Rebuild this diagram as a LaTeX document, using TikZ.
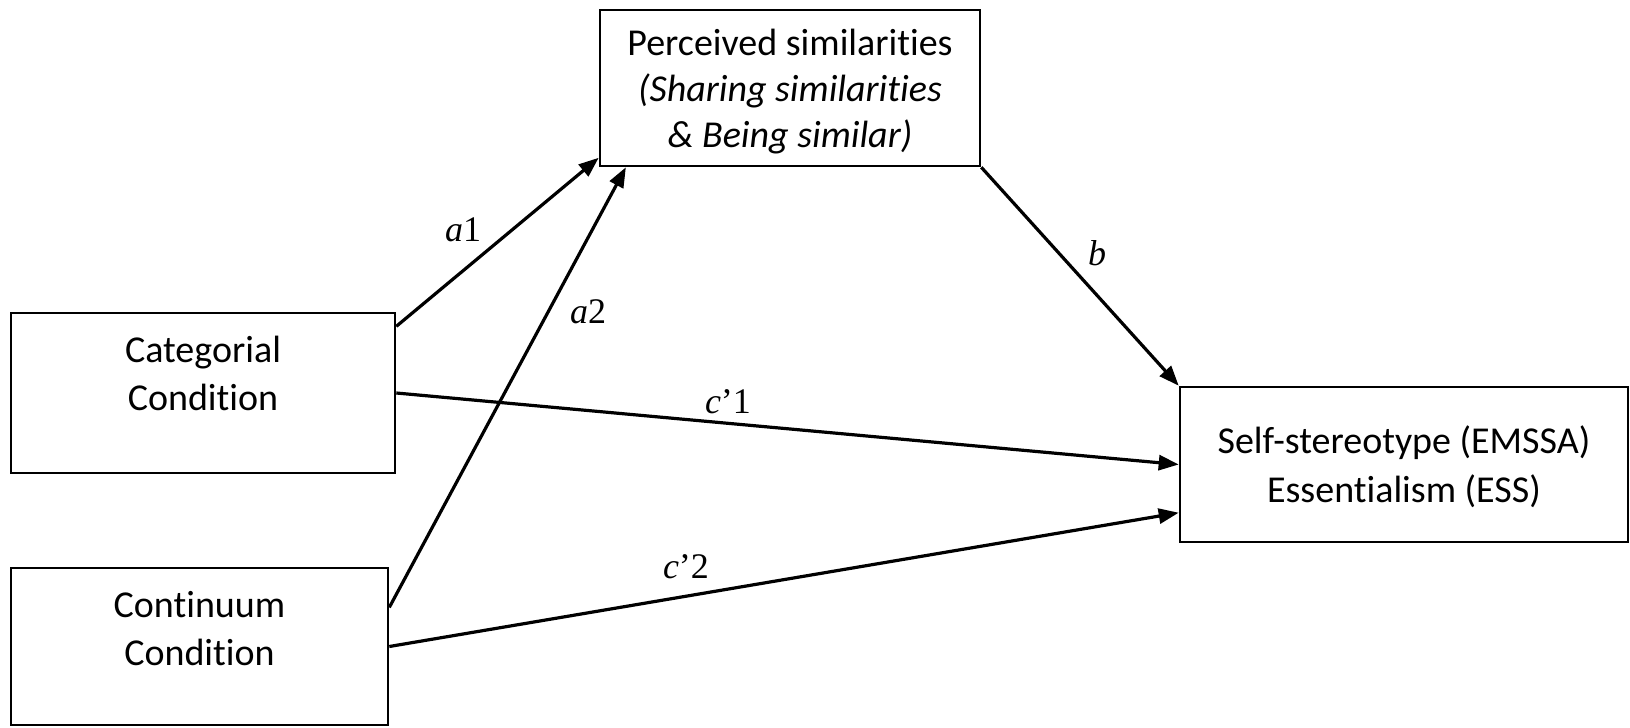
\documentclass[tikz,border=0pt]{standalone}
\usepackage{fontspec}
\setmainfont{Carlito}[Ligatures=NoCommon]
\newfontfamily\pathfont{Liberation Serif}
\usetikzlibrary{arrows.meta, calc}

\begin{document}
\begin{tikzpicture}[
    x=0.5pt, y=-0.5pt,
    var/.style={draw, line width=1.3pt, align=center, inner sep=0pt,
      font=\fontsize{19}{24}\selectfont},
    arr/.style={-{Triangle[length=10pt, width=7.5pt]}, line width=1.6pt},
    coef/.style={font=\pathfont\fontsize{18}{20}\selectfont, inner sep=0pt}]
  \useasboundingbox (0,0) rectangle (1630,728);
  % variables
  \node[var, minimum width=192pt, minimum height=80pt, text depth=19.25pt] (cat) at (203,393) {Categorial\\Condition};
  \node[var, minimum width=188.5pt, minimum height=78.5pt, text depth=17.75pt] (cont) at (199.5,646.5) {Continuum\\Condition};
  \node[var, minimum width=190pt, minimum height=78pt, text depth=-2.75pt,
    font=\fontsize{19}{23}\selectfont] (perc) at (790,88)
    {Perceived similarities\\\textit{(Sharing similarities}\\\textit{\& Being similar)}};
  \node[var, minimum width=224pt, minimum height=77.5pt, text depth=-0.75pt,
    font=\fontsize{19}{24.5}\selectfont] (out) at (1404,464.5)
    {Self-stereotype (EMSSA)\\Essentialism (ESS)};
  % paths
  \draw[arr] ($(cat.north east)!0.09!(cat.south east)$) -- ($(perc.north west)!0.94!(perc.south west)$);
  \draw[arr] ($(cont.north east)!0.255!(cont.south east)$) -- ($(perc.south west)!0.071!(perc.south east)$);
  \draw[arr] (perc.south east) -- (out.north west);
  \draw[arr] (cat.east) -- (out.west);
  \draw[arr] (cont.east) -- ($(out.north west)!0.806!(out.south west)$);
  % coefficients
  \node[coef] (a1) at (463,230) {\textit{a}1};
  \node[coef] (a2) at (588,312) {\textit{a}2};
  \node[coef] (b) at (1097,253) {\textit{b}};
  \node[coef] (c1) at (728,402) {\textit{c}’1};
  \node[coef] (c2) at (686,567) {\textit{c}’2};
\end{tikzpicture}
\end{document}
